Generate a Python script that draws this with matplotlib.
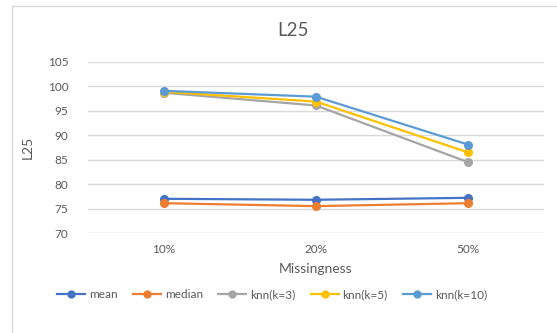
import matplotlib
matplotlib.use("Agg")
import matplotlib.pyplot as plt
from matplotlib.patches import Rectangle

categories = ["10%", "20%", "50%"]
mean_vals = [77.0, 76.8, 77.2]
median_vals = [76.1, 75.5, 76.1]
knn3_vals = [98.7, 96.1, 84.5]
knn5_vals = [98.9, 96.9, 86.5]
knn10_vals = [99.1, 97.9, 88.1]

series = [
    ("mean", mean_vals, "#4472C4"),
    ("median", median_vals, "#ED7D31"),
    ("knn(k=3)", knn3_vals, "#A5A5A5"),
    ("knn(k=5)", knn5_vals, "#FFC000"),
    ("knn(k=10)", knn10_vals, "#5B9BD5"),
]
yticks = [70, 75, 80, 85, 90, 95, 100, 105]

plt.rcParams["font.family"] = ["Lato", "DejaVu Sans"]
text_color = "#595959"

fig = plt.figure(figsize=(5.57, 3.33), dpi=100)
fig.patch.set_facecolor("white")

# chart area frame
fig.patches.append(Rectangle((12 / 557, -0.1), 1.0, 1 - 6 / 333 + 0.1,
                             transform=fig.transFigure, fill=False,
                             edgecolor="#D9D9D9", linewidth=1.0))

ax = fig.add_axes([88 / 557, 1 - 233 / 333, (544 - 88) / 557, (233 - 62) / 333])
x = list(range(len(categories)))
for name, vals, color in series:
    ax.plot(x, vals, color=color, linewidth=1.6, marker="o", markersize=5.5,
            label=name)

ax.set_xlim(-0.5, len(categories) - 0.5)
ax.set_ylim(70, 105)
ax.set_yticks(yticks)
ax.set_xticks(x)
ax.set_xticklabels(categories)
ax.grid(axis="y", color="#D9D9D9", linewidth=1.0)
ax.set_axisbelow(True)
for s in ax.spines.values():
    s.set_visible(False)
ax.tick_params(length=0, colors=text_color, labelsize=8.5, pad=8)
ax.tick_params(axis="y", pad=14)

ax.set_xlabel("Missingness", color=text_color, fontsize=10, labelpad=6)
ax.set_ylabel("L25", color=text_color, fontsize=10, labelpad=10)
fig.text(293 / 557, 1 - 30 / 333, "L25", ha="center", va="center",
         fontsize=13.5, color=text_color)

fig.legend(loc="center", bbox_to_anchor=(272 / 557, 1 - 295 / 333), ncol=5,
           frameon=False, fontsize=8.5, labelcolor=text_color,
           handlelength=2.4, columnspacing=1.3, handletextpad=0.3,
           markerscale=0.9)

fig.savefig("out.png", dpi=100)
